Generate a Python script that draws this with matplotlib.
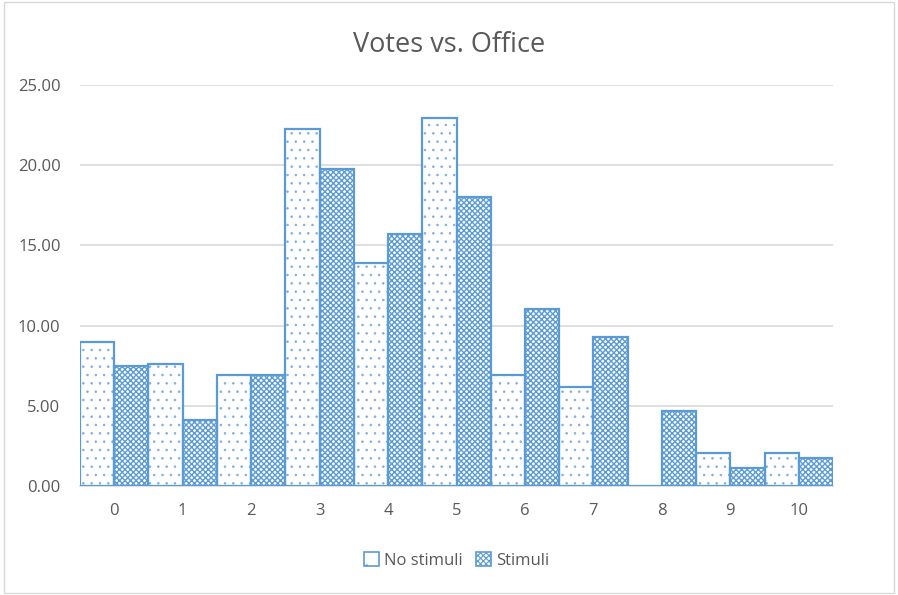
import numpy as np
import matplotlib.pyplot as plt
from matplotlib.patches import Rectangle, Patch

# Values
categories = ['0', '1', '2', '3', '4', '5', '6', '7', '8', '9', '10']
no_stimuli = [9.0, 7.6, 6.9, 22.25, 13.9, 22.95, 6.9, 6.2, 0.0, 2.05, 2.05]
stimuli = [7.5, 4.1, 6.95, 19.75, 15.7, 18.0, 11.05, 9.3, 4.65, 1.1, 1.75]
y_ticks = [0, 5, 10, 15, 20, 25]

blue = '#5B9BD5'
text_color = '#595959'

plt.rcParams['font.family'] = ['Open Sans', 'DejaVu Sans']

fig = plt.figure(figsize=(8.98, 5.95), dpi=100)
ax = fig.add_axes([80 / 898, (595 - 486) / 595, (833 - 80) / 898, (486 - 85) / 595])

x = np.arange(len(categories))
w = 0.5
# hatch layers first, outlines on top
plt.rcParams['hatch.linewidth'] = 0.6
ax.bar(x - w / 2, no_stimuli, width=w, facecolor='white', edgecolor='#7FAFDF',
       hatch='..', linewidth=0, zorder=3)
plt.rcParams['hatch.linewidth'] = 1.0
ax.bar(x + w / 2, stimuli, width=w, facecolor='white', edgecolor=blue,
       hatch='xxxxxx', linewidth=0, zorder=3)
ax.bar(x - w / 2, no_stimuli, width=w, fill=False, edgecolor=blue,
       linewidth=1.6, zorder=4)
ax.bar(x + w / 2, stimuli, width=w, fill=False, edgecolor=blue,
       linewidth=1.6, zorder=4)

ax.set_xlim(-0.5, len(categories) - 0.5)
ax.set_ylim(0, 25)
ax.set_yticks(y_ticks)
ax.set_yticklabels([f'{v:.2f}' for v in y_ticks])
ax.set_xticks(x)
ax.set_xticklabels(categories)
ax.yaxis.grid(True, color='#D9D9D9', linewidth=1.2, zorder=0)
ax.set_axisbelow(True)
for s in ['top', 'right', 'left']:
    ax.spines[s].set_visible(False)
ax.spines['bottom'].set_color('#D9D9D9')
ax.spines['bottom'].set_linewidth(1.2)
ax.tick_params(axis='both', length=0, labelsize=12, colors=text_color)
ax.tick_params(axis='x', pad=12)
ax.tick_params(axis='y', pad=14)

fig.text(0.5, 1 - 45 / 595, 'Votes vs. Office', ha='center', va='center',
         fontsize=19.5, color=text_color)

plt.rcParams['hatch.linewidth'] = 0.8
handles = [Patch(facecolor='white', edgecolor=blue, hatch='.', linewidth=1.2),
           Patch(facecolor='white', edgecolor=blue, hatch='xxxxxx', linewidth=1.2)]
ax.legend(handles, ['No stimuli', 'Stimuli'], loc='center',
          bbox_to_anchor=(0.5, -0.185), ncol=2, frameon=False,
          fontsize=12, labelcolor=text_color, handlelength=0.9,
          handleheight=0.9, handletextpad=0.3, columnspacing=0.8)

# chart border
fig.patches.append(Rectangle((4 / 898, 2 / 595), 1 - 8 / 898, 1 - 4 / 595,
                             transform=fig.transFigure, fill=False,
                             edgecolor='#D9D9D9', linewidth=1))

fig.savefig('out.png', dpi=100)
